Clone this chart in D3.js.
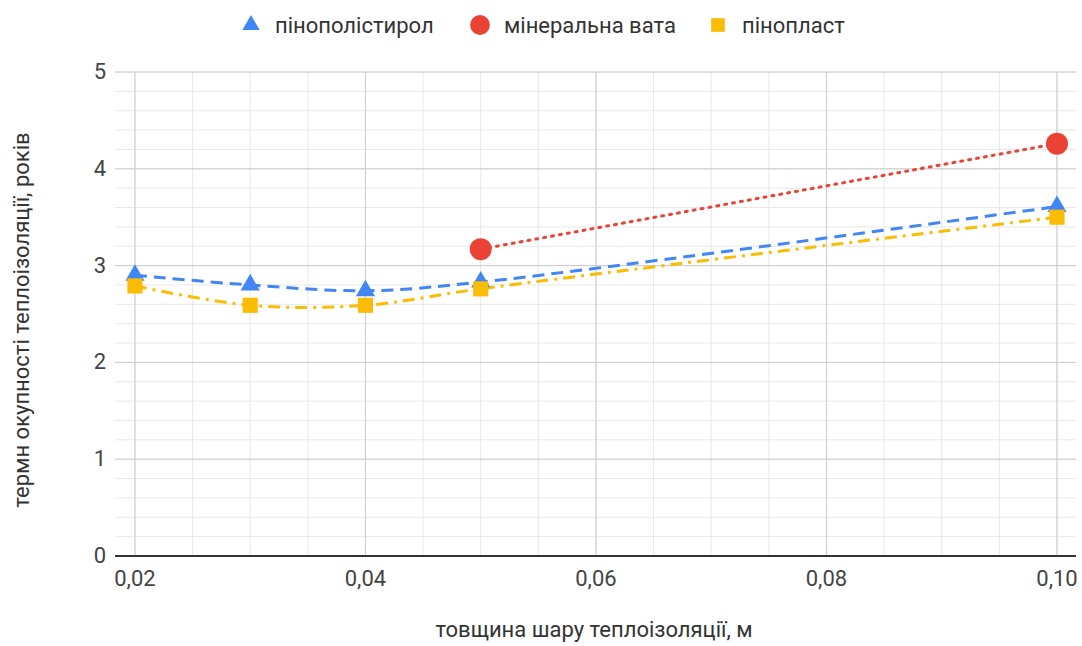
<!DOCTYPE html>
<html>
  <head>
    <meta charset="utf-8">
    <script src="https://d3js.org/d3.v7.min.js"></script>
    <style>
      body { margin: 0; background: #fff; }
      svg { display: block; font-family: Roboto, "Noto Sans", sans-serif; }
    </style>
  </head>
  <body>
    <svg width="1082" height="646"></svg>
    <script>
      // values
      const thickness = [0.02, 0.03, 0.04, 0.05, 0.10];
      const polystyrene = [2.9, 2.8, 2.74, 2.83, 3.61];
      const mineralWool = [null, null, null, 3.17, 4.26];
      const foam = [2.79, 2.59, 2.59, 2.76, 3.5];
      const seriesNames = ["пінополістирол", "мінеральна вата", "пінопласт"];
      const xTicks = [0.02, 0.04, 0.06, 0.08, 0.10];
      const yTicks = [0, 1, 2, 3, 4, 5];

      const svg = d3.select("svg");
      const x = d3.scaleLinear().domain([0.01827, 0.10165]).range([115, 1076]);
      const y = d3.scaleLinear().domain([0, 5]).range([556, 72]);

      // minor grid
      const minorX = d3.range(0.02, 0.1001, 0.005);
      const minorY = d3.range(0, 5.001, 0.2);
      svg.append("g").selectAll("line").data(minorY).join("line")
        .attr("x1", 115).attr("x2", 1076)
        .attr("y1", d => y(d)).attr("y2", d => y(d))
        .attr("stroke", "#e8e8e8").attr("stroke-width", 1);
      svg.append("g").selectAll("line").data(minorX).join("line")
        .attr("x1", d => x(d)).attr("x2", d => x(d))
        .attr("y1", y(5)).attr("y2", y(0))
        .attr("stroke", "#e8e8e8").attr("stroke-width", 1);

      // major grid
      svg.append("g").selectAll("line").data(yTicks.slice(1)).join("line")
        .attr("x1", 115).attr("x2", 1076)
        .attr("y1", d => y(d)).attr("y2", d => y(d))
        .attr("stroke", "#cccccc").attr("stroke-width", 1);
      svg.append("g").selectAll("line").data(xTicks).join("line")
        .attr("x1", d => x(d)).attr("x2", d => x(d))
        .attr("y1", y(5)).attr("y2", y(0))
        .attr("stroke", "#cccccc").attr("stroke-width", 1);

      // baseline
      svg.append("line")
        .attr("x1", 115).attr("x2", 1076)
        .attr("y1", y(0)).attr("y2", y(0))
        .attr("stroke", "#333").attr("stroke-width", 2);

      // tick labels
      svg.append("g").selectAll("text").data(yTicks).join("text")
        .attr("x", 106).attr("y", d => y(d) + 7)
        .attr("text-anchor", "end").attr("font-size", 22).attr("fill", "#444")
        .text(d => d);
      svg.append("g").selectAll("text").data(xTicks).join("text")
        .attr("x", d => x(d)).attr("y", 586)
        .attr("text-anchor", "middle").attr("font-size", 22).attr("fill", "#444")
        .text(d => d3.format(".2f")(d).replace(".", ","));

      // axis titles
      svg.append("text")
        .attr("x", 594).attr("y", 637)
        .attr("text-anchor", "middle").attr("font-size", 22).attr("fill", "#333")
        .text("товщина шару теплоізоляції, м");
      svg.append("text")
        .attr("transform", "translate(29,320) rotate(-90)")
        .attr("text-anchor", "middle").attr("font-size", 22).attr("fill", "#333")
        .text("термн окупності теплоізоляції, років");

      const colors = ["#4285f4", "#ea4335", "#fbbc04"];
      const dashes = ["12,7", "2,6", "12,6,3,6"];
      const seriesVals = [polystyrene, mineralWool, foam];

      const line = d3.line()
        .defined(d => d[1] != null)
        .x(d => x(d[0])).y(d => y(d[1]))
        .curve(d3.curveCatmullRom.alpha(0.5));

      seriesVals.forEach((vals, i) => {
        const pts = thickness.map((t, j) => [t, vals[j]]).filter(d => d[1] != null);
        svg.append("path")
          .datum(pts)
          .attr("d", line)
          .attr("fill", "none")
          .attr("stroke", colors[i])
          .attr("stroke-width", 3)
          .attr("stroke-linecap", i === 1 ? "round" : "butt")
          .attr("stroke-dasharray", dashes[i]);
      });

      const tri = d3.symbol().type(d3.symbolTriangle).size(160);
      const sq = d3.symbol().type(d3.symbolSquare).size(230);

      function marker(g, i, cx, cy, s) {
        if (i === 0) {
          g.append("path").attr("d", tri).attr("transform", `translate(${cx},${cy}) scale(${s})`).attr("fill", colors[0]);
        } else if (i === 1) {
          g.append("circle").attr("cx", cx).attr("cy", cy).attr("r", 11 * s).attr("fill", colors[1]);
        } else {
          g.append("path").attr("d", sq).attr("transform", `translate(${cx},${cy}) scale(${s})`).attr("fill", colors[2]);
        }
      }

      const markers = svg.append("g");
      [0, 2, 1].forEach(i => {
        seriesVals[i].forEach((v, j) => {
          if (v != null) marker(markers, i, x(thickness[j]), y(v), 1);
        });
      });

      // legend
      const legendX = [251, 480, 718];
      const legend = svg.append("g");
      seriesNames.forEach((name, i) => {
        marker(legend, i, legendX[i], 25, 0.9);
        legend.append("text")
          .attr("x", legendX[i] + 24).attr("y", 33)
          .attr("font-size", 22).attr("fill", "#333")
          .text(name);
      });
    </script>
  </body>
</html>
